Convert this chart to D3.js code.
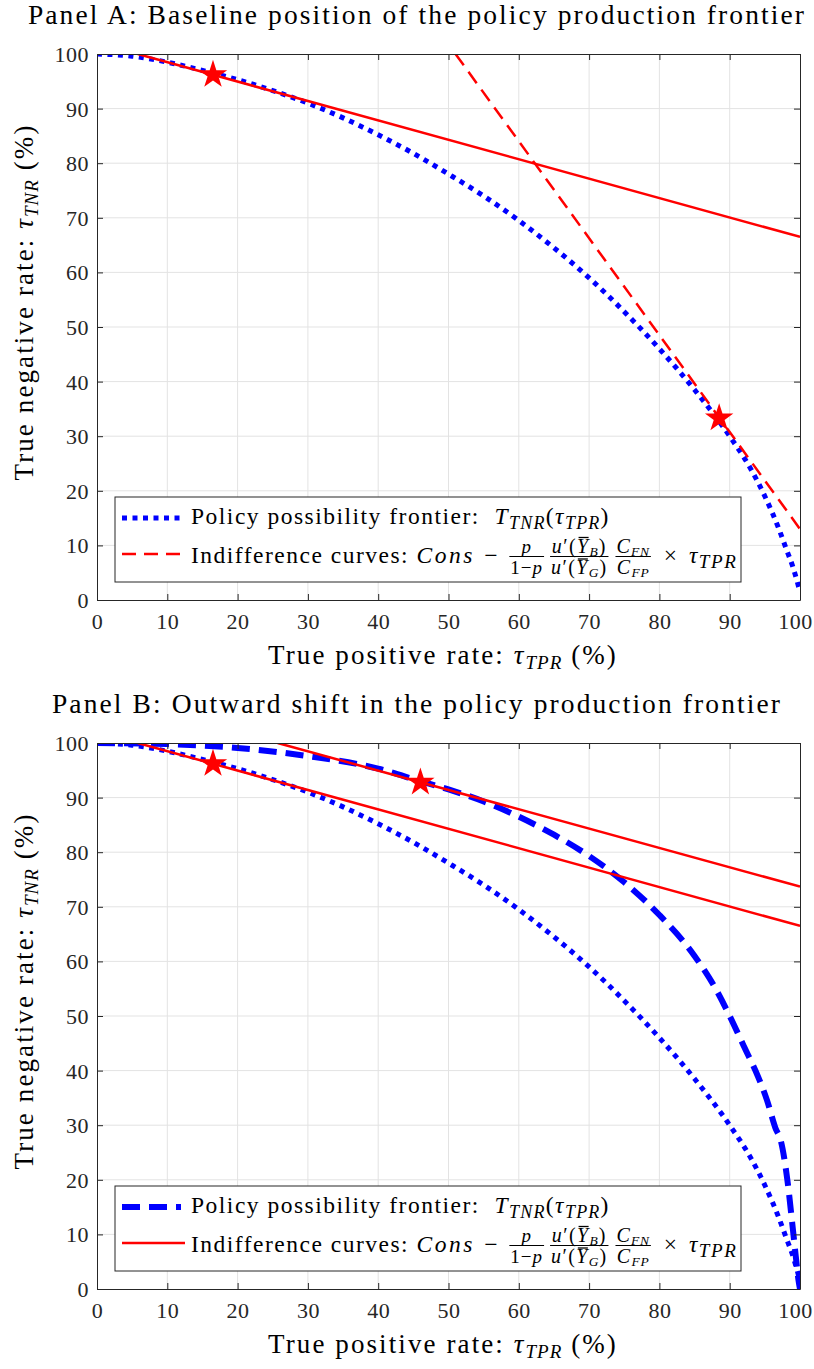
<!DOCTYPE html>
<html>
<head>
<meta charset="utf-8">
<script src="https://cdn.jsdelivr.net/npm/d3@7"></script>
<style>
  body { margin: 0; background: #fff; }
  svg { display: block; font-family: "Liberation Serif", "DejaVu Serif", serif; }
  svg text { white-space: pre; font-family: "Liberation Serif", serif; }
  .grid line { stroke: #e3e3e3; stroke-width: 1; }
  .axis path, .axis line { stroke: #262626; }
  .axis text { fill: #262626; font-size: 22px; letter-spacing: 0.5px; }
</style>
</head>
<body>
<svg id="chart" width="814" height="1369"></svg>
<script>
// ---- data (percent) ----
const xTicks = [0, 10, 20, 30, 40, 50, 60, 70, 80, 90, 100];
const yTicks = [0, 10, 20, 30, 40, 50, 60, 70, 80, 90, 100];

// baseline policy possibility frontier
const tprBase = [0, 5, 10, 15, 20, 25, 30, 35, 40, 45, 50, 55, 60, 65, 70, 75, 80, 85, 90, 93, 95, 97, 98, 99, 100];
const tnrBase = [100, 99.6, 98.5, 97, 95.3, 93.3, 91, 88.3, 85.2, 81.8, 78, 74, 69.5, 64.5, 59, 52.8, 46, 38.5, 30, 24, 19, 13, 9.5, 6, 1.5];

// frontier after the outward shift
const tprShift = [0, 10, 20, 30, 40, 46, 50, 55, 60, 65, 70, 75, 80, 85, 88, 90, 92, 94, 95.3, 96.5, 97.3, 98.2, 98.9, 99.4, 99.8, 100];
const tnrShift = [100, 99.8, 99.1, 97.6, 95.3, 93, 91.5, 89.3, 86.5, 83.2, 79.3, 74.5, 68.5, 61, 55, 50, 44.5, 39, 34.6, 29.5, 27, 20, 12, 6, 1.5, 0];

// indifference lines (end points)
const indiffLow = [[5.8, 100], [100, 66.5]];
const indiffSteep = [[51, 100], [100, 13]];
const indiffHigh = [[25.7, 100], [100, 73.7]];

// optimum points
const starsA = [[16.5, 96.2], [88.5, 33.3]];
const starsB = [[16.5, 96.2], [46, 92.8]];

const titles = ["Panel A: Baseline position of the policy production frontier",
                "Panel B: Outward shift in the policy production frontier"];

const svg = d3.select("#chart");
const left = 97, right = 800;

// lays out a row of text pieces (with simple fractions) and returns its width
function rich(g, atoms, x, y, base) {
    let cx = x;
    atoms.forEach(a => {
        if (a.num) {
            const ng = g.append("g"), dg = g.append("g");
            const wn = rich(ng, a.num, 0, 0, base), wd = rich(dg, a.den, 0, 0, base);
            const w = Math.max(wn, wd) + 2;
            ng.attr("transform", `translate(${cx + (w - wn) / 2},${y - 10.5})`);
            dg.attr("transform", `translate(${cx + (w - wd) / 2},${y + 11})`);
            g.append("line").attr("x1", cx).attr("x2", cx + w)
                .attr("y1", y - 6.5).attr("y2", y - 6.5)
                .attr("stroke", "#000").attr("stroke-width", 1);
            cx += w + (a.sp || 5);
        } else {
            const t = g.append("text").attr("x", cx).attr("y", y + (a.dy || 0))
                .style("font-size", (a.fs || base.fs) + "px")
                .style("letter-spacing", (a.ls != null ? a.ls : base.ls) + "px")
                .style("font-style", a.it ? "italic" : "normal")
                .text(a.t);
            const w = t.node().getComputedTextLength();
            if (a.over) {
                g.append("line").attr("x1", cx + 1.5).attr("x2", cx + w - 1)
                    .attr("y1", y + a.over).attr("y2", y + a.over)
                    .attr("stroke", "#000").attr("stroke-width", 1.3);
            }
            cx += w + (a.sp || 0);
        }
    });
    return cx - x;
}

function uPrime(s) {
    return [{t: "u", it: true, fs: 20, ls: 1.4}, {t: "′(", fs: 20, ls: 1.4}, {t: "Y", it: true, fs: 20, ls: 1.4, over: -15},
            {t: s, it: true, fs: 13.5, ls: 0.8, dy: 3}, {t: ")", fs: 20, ls: 1.4}];
}

const legendFont = {fs: 23.5, ls: 1.5};
const line1 = [{t: "Policy possibility frontier:  "}, {t: "T", it: true},
               {t: "TNR", it: true, fs: 18, ls: 1.2, dy: 5}, {t: "("}, {t: "τ", it: true},
               {t: "TPR", it: true, fs: 18, ls: 1.2, dy: 5}, {t: ")"}];
const line2 = [{t: "Indifference curves: "}, {t: "Cons", it: true, ls: 2.5, sp: 2}, {t: " − ", sp: 3},
               {num: [{t: "p", it: true, fs: 19, ls: 1}],
                den: [{t: "1−", fs: 19, ls: 1}, {t: "p", it: true, fs: 19, ls: 1}], sp: 6},
               {num: uPrime("B"), den: uPrime("G"), sp: 7},
               {num: [{t: "C", it: true, fs: 20, ls: 1.2}, {t: "FN", it: true, fs: 13.5, ls: 0.8, dy: 3}],
                den: [{t: "C", it: true, fs: 20, ls: 1.2}, {t: "FP", it: true, fs: 13.5, ls: 0.8, dy: 3}], sp: 4},
               {t: " × ", ls: 3}, {t: "τ", it: true}, {t: "TPR", it: true, fs: 19, ls: 1.6, dy: 5}];

function drawPanel(idx, top, bottom, curves, lines, stars, legend) {
    const x = d3.scaleLinear().domain([0, 100]).range([left, right]);
    const y = d3.scaleLinear().domain([0, 100]).range([bottom, top]);
    const g = svg.append("g");

    g.append("text").attr("x", 417).attr("y", top - 30)
        .attr("text-anchor", "middle").style("font-size", "27.5px").style("letter-spacing", "2.1px")
        .text(titles[idx]);

    // grid
    const grid = g.append("g").attr("class", "grid");
    grid.selectAll(".gx").data(xTicks.slice(1, -1)).join("line").attr("class", "gx")
        .attr("x1", d => x(d)).attr("x2", d => x(d)).attr("y1", top).attr("y2", bottom);
    grid.selectAll(".gy").data(yTicks.slice(1, -1)).join("line").attr("class", "gy")
        .attr("y1", d => y(d)).attr("y2", d => y(d)).attr("x1", left).attr("x2", right);

    const clipId = "clip" + idx;
    g.append("clipPath").attr("id", clipId).append("rect")
        .attr("x", left).attr("y", top).attr("width", right - left).attr("height", bottom - top);
    const plot = g.append("g").attr("clip-path", `url(#${clipId})`);

    const curve = d3.line().x(d => x(d[0])).y(d => y(d[1])).curve(d3.curveMonotoneX);
    curves.forEach(c => {
        plot.append("path").datum(d3.zip(c.xs, c.ys)).attr("d", curve)
            .attr("fill", "none").attr("stroke", "#0000ff")
            .attr("stroke-width", c.w).attr("stroke-dasharray", c.dash);
    });
    const straight = d3.line().x(d => x(d[0])).y(d => y(d[1]));
    lines.forEach(l => {
        plot.append("path").datum(l.pts).attr("d", straight)
            .attr("fill", "none").attr("stroke", "#ff0000").attr("stroke-width", 2.5)
            .attr("stroke-dasharray", l.dash || null);
    });

    // axes: ticks point inwards on all four sides
    const xa = g.append("g").attr("class", "axis").attr("transform", `translate(0,${bottom})`)
        .call(d3.axisBottom(x).tickValues(xTicks).tickSizeInner(-6).tickSizeOuter(0).tickPadding(13));
    const ya = g.append("g").attr("class", "axis").attr("transform", `translate(${left},0)`)
        .call(d3.axisLeft(y).tickValues(yTicks).tickSizeInner(-6).tickSizeOuter(0).tickPadding(8));
    g.append("g").attr("class", "axis").attr("transform", `translate(0,${top})`)
        .call(d3.axisTop(x).tickValues(xTicks).tickSizeInner(-6).tickSizeOuter(0).tickFormat(""));
    g.append("g").attr("class", "axis").attr("transform", `translate(${right},0)`)
        .call(d3.axisRight(y).tickValues(yTicks).tickSizeInner(-6).tickSizeOuter(0).tickFormat(""));
    xa.selectAll("text").filter(d => d === 100).attr("dx", -5);
    ya.selectAll("text").attr("dy", "0.34em");

    // stars
    plot.selectAll(".star").data(stars).join("path").attr("class", "star")
        .attr("transform", d => `translate(${x(d[0])},${y(d[1])})`)
        .attr("d", d3.symbol(d3.symbolStar, 250)).attr("fill", "#ff0000");

    // axis titles
    const labFont = {fs: 27, ls: 2.1};
    const xl = g.append("g");
    const wx = rich(xl, [{t: "True positive rate: "}, {t: "τ", it: true},
                         {t: "TPR", it: true, fs: 19, ls: 1, dy: 5}, {t: " (%)"}], 0, bottom + 64, labFont);
    xl.attr("transform", `translate(${443 - wx / 2},0)`);
    const yl = g.append("g");
    const wy = rich(yl, [{t: "True negative rate: "}, {t: "τ", it: true},
                         {t: "TNR", it: true, fs: 19, ls: 1, dy: 5}, {t: " (%)"}], 0, 0, labFont);
    yl.attr("transform", `translate(33,${(top + bottom) / 2 + wy / 2 - 25}) rotate(-90)`);

    // legend
    const lg = g.append("g").attr("transform", `translate(115,${bottom - 103})`);
    lg.append("rect").attr("width", 626).attr("height", 85)
        .attr("fill", "#fff").attr("stroke", "#262626").attr("stroke-width", 1);
    lg.append("line").attr("x1", 7).attr("x2", 66).attr("y1", 21).attr("y2", 21)
        .attr("stroke", "#0000ff").attr("stroke-width", legend.w).attr("stroke-dasharray", legend.dash);
    lg.append("line").attr("x1", 7).attr("x2", 70).attr("y1", 57).attr("y2", 57)
        .attr("stroke", "#ff0000").attr("stroke-width", 2.5).attr("stroke-dasharray", legend.rdash || null);
    rich(lg, line1, 76, 27, legendFont);
    rich(lg, line2, 76, 66, legendFont);
}

drawPanel(0, 54, 600,
    [{xs: tprBase, ys: tnrBase, w: 5, dash: "5,5.5"}],
    [{pts: indiffLow}, {pts: indiffSteep, dash: "14,8"}],
    starsA, {w: 5, dash: "5,5.5", rdash: "14,8"});

drawPanel(1, 743, 1289,
    [{xs: tprBase, ys: tnrBase, w: 5, dash: "5,5.5"}, {xs: tprShift, ys: tnrShift, w: 6, dash: "18,9"}],
    [{pts: indiffLow}, {pts: indiffHigh}],
    starsB, {w: 6, dash: "18,9"});
</script>
</body>
</html>
